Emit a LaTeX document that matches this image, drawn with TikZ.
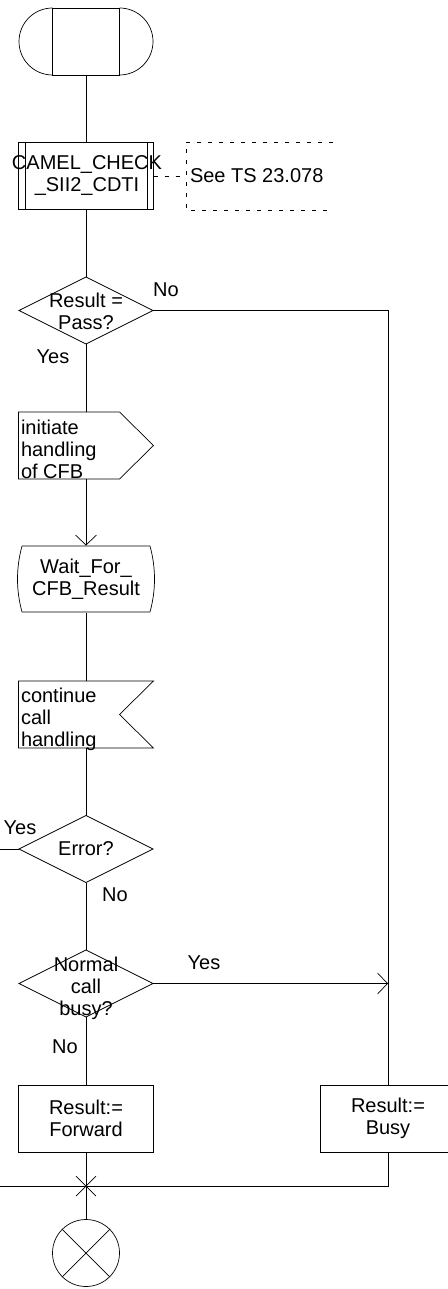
\documentclass[tikz,border=0pt]{standalone}
\usepackage{fontspec}
\setmainfont{Liberation Sans}
\usetikzlibrary{shapes.geometric,arrows.meta,calc}
\begin{document}
\begin{tikzpicture}[x=1pt,y=-1pt, line width=0.7pt,
  every node/.style={font=\fontsize{20}{22}\selectfont, inner sep=0pt, outer sep=0pt},
  box/.style={draw, rectangle, minimum width=135pt, minimum height=67pt},
  blank/.style={rectangle, minimum width=135pt, minimum height=67pt},
  dec/.style={draw, diamond, minimum width=134pt, minimum height=67pt},
  txt/.style={align=center},
  ltxt/.style={align=left, anchor=west},
  flow/.style={-{Straight Barb[length=10pt,width=21pt]}},
  cmt/.style={dash pattern=on 4pt off 7pt}
]
\useasboundingbox (0,0) rectangle (447,1289);

% start terminal
\node[draw, rectangle, minimum width=67pt, minimum height=67pt] (term) at (86,41.5) {};
\draw (term.north west) arc[start angle=90, end angle=270, radius=33.5pt];
\draw (term.north east) arc[start angle=90, end angle=-90, radius=33.5pt];

% procedure call
\node[box] (camel) at (86,176) {};
\draw ([xshift=7pt]camel.north west) -- ([xshift=7pt]camel.south west);
\draw ([xshift=-6pt]camel.north east) -- ([xshift=-6pt]camel.south east);
\node[txt] (camelt) at (87,175.5) {CAMEL\_CHECK\\\_SII2\_CDTI};

% comment
\coordinate (cA) at (186,142);
\coordinate (cB) at (333,142);
\coordinate (cC) at (186,210);
\coordinate (cD) at (333,210);
\draw[cmt] (cB) -- (cA) -- (cC) -- (cD);
\node[ltxt] (cmtt) at (190,176) {See TS 23.078};
\draw[cmt] (camel.east) -- (camel.east -| cA);

% decision 1
\node[dec] (d1) at (86,310.5) {};
\node[txt] (d1t) at (86,311) {Result =\\Pass?};
\node (d1no) at (166,290) {No};
\node (d1yes) at (53,357) {Yes};

% send signal
\node[blank] (send) at (86,445.5) {};
\draw (send.north west) -- ($(send.north west)+(101,0)$) -- (send.east)
  -- ($(send.south west)+(101,0)$) -- (send.south west) -- cycle;
\node[ltxt] (sendt) at (21,449) {initiate\\handling\\of CFB};

% wait state
\node[blank] (wait) at (86,579) {};
\draw (22,546) -- (150,546) .. controls (156,568) and (156,590) .. (150,612)
  -- (22,612) .. controls (16,590) and (16,568) .. (22,546);
\node[txt] (waitt) at (86,579) {Wait\_For\_\\CFB\_Result};

% receive signal
\node[blank] (recv) at (86,714.5) {};
\draw (recv.north west) -- (recv.north east) -- ($(recv.east)+(-34,0)$)
  -- (recv.south east) -- (recv.south west) -- cycle;
\node[ltxt] (recvt) at (21,719.5) {continue\\call\\handling};

% decision 2
\node[dec] (d2) at (86,849) {};
\node[txt] (d2t) at (86,849) {Error?};
\node (d2yes) at (20,828) {Yes};
\node (d2no) at (115,895) {No};

% decision 3
\node[dec] (d3) at (86,983.5) {};
\node[txt] (d3t) at (86,988) {Normal\\call\\busy?};
\node (d3yes) at (204,963) {Yes};
\node (d3no) at (65,1047) {No};

% tasks
\node[box] (fwd) at (86,1118.5) {};
\node[txt] (fwdt) at (86,1118) {Result:=\\Forward};
\node[box] (busy) at (388,1118.5) {};
\node[txt] (busyt) at (388,1118) {Result:=\\Busy};

% stop
\coordinate (j) at (86,1186);
\node[draw, circle, minimum size=67pt] (stop) at (86,1253) {};
\draw (stop.north west) -- (stop.south east);
\draw (stop.north east) -- (stop.south west);

\coordinate (rt) at (388,310.5);
\coordinate (lb) at (0,1186);
\coordinate (lerr) at (0,849);

% connectors
\draw (term) -- (camel);
\draw (camel) -- (d1);
\draw (d1) -- (send);
\draw[flow] (send.south) -- (wait.north);
\draw (wait) -- (recv);
\draw (recv) -- (d2);
\draw (d2) -- (d3);
\draw (d3) -- (fwd);
\draw (d1.east) -- (rt) -- (busy.north);
\draw[flow] (d3.east) -- (d3.east -| busy);
\draw (d2.west) -- (lerr);
\draw (busy.south) |- (lb);
\draw (fwd.south) -- (stop.north);
\draw ($(j)+(-10,-10)$) -- ($(j)+(10,10)$);
\draw ($(j)+(-10,10)$) -- ($(j)+(10,-10)$);
\end{tikzpicture}
\end{document}
